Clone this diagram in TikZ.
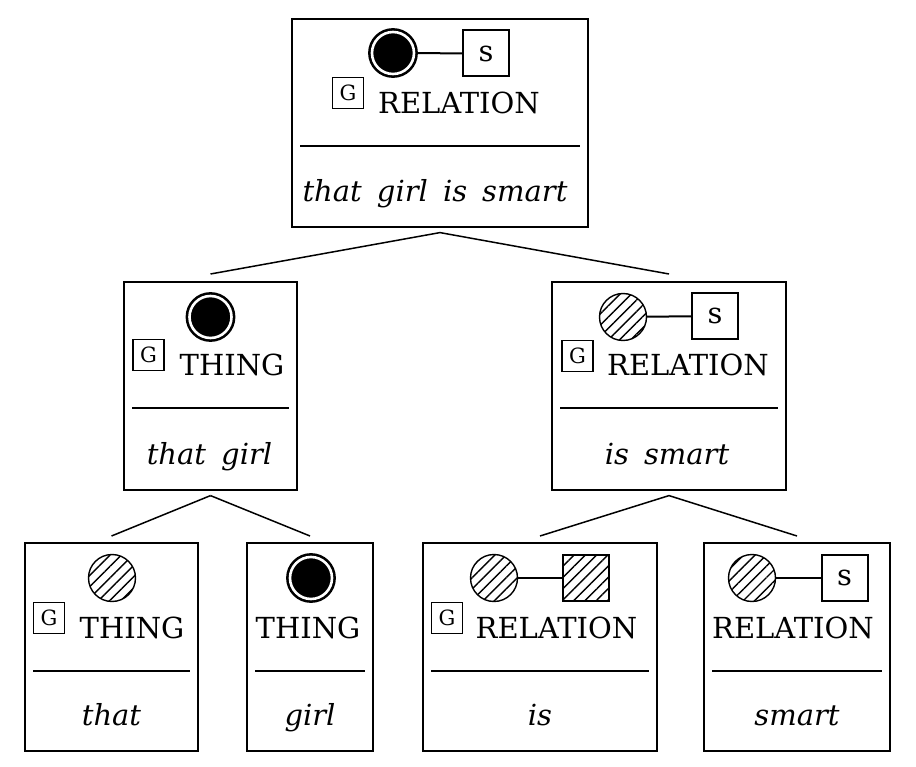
\documentclass[tikz,border=0pt]{standalone}
\usepackage{fontspec}
\setmainfont{DejaVu Serif}
\usetikzlibrary{patterns.meta,positioning}

\newcommand{\gap}{\hspace{0.52em}}

\tikzset{
  unit/.style={draw,line width=1.6pt,minimum width=#1,minimum height=208pt,inner sep=0pt,anchor=north},
  whole/.style={circle,draw,fill=black,line width=2.6pt,double=white,double distance=2.6pt,
    minimum size=42pt,inner sep=0pt,outer sep=2.9pt},
  open/.style={circle,draw,line width=1.4pt,minimum size=47pt,inner sep=0pt,
    pattern={Lines[angle=45,distance=8pt,line width=1.4pt]}},
  slot/.style={draw,line width=2pt,minimum size=46pt,inner sep=0pt},
  hslot/.style={slot,pattern={Lines[angle=45,distance=8pt,line width=1.4pt]}},
  gslot/.style={draw,line width=1.2pt,minimum size=31pt,inner sep=0pt,font=\fontsize{21}{21}\selectfont},
  cat/.style={anchor=base,inner sep=0pt},
  words/.style={anchor=base,inner sep=0pt,font=\fontsize{29}{34}\selectfont\itshape},
  bond/.style={line width=2pt},
  rule/.style={line width=1.6pt},
  link/.style={line width=1.5pt}
}

\begin{document}
\begin{tikzpicture}[x=1pt,y=-1pt,font=\fontsize{29}{34}\selectfont]
\useasboundingbox (0,0) rectangle (916,767);

% boxes
\node[unit=296pt] (root) at (440,18) {};
\node[unit=173pt] (subj) at (210.5,281) {};
\node[unit=234pt] (pred) at (669,281) {};
\node[unit=173pt] (det) at (111.5,542) {};
\node[unit=126pt] (noun) at (310,542) {};
\node[unit=234pt] (cop) at (540,542) {};
\node[unit=186pt] (adj) at (797,542) {};

% that girl is smart
\begin{scope}[shift={(root.north)}]
  \node[whole] (root-c) at (-47,35) {};
  \node[slot] (root-s) at (46,35.5) {s};
  \draw[bond] (root-c) -- (root-s);
  \node[gslot] (root-g) at (-92,75) {G};
  \node[cat] (root-l) at (19,96) {RELATION};
  \draw[rule] (-140,128) -- (140,128);
  \node[words] (root-w) at (-5,184) {that\gap girl\gap is\gap smart};
\end{scope}

% that girl
\begin{scope}[shift={(subj.north)}]
  \node[whole] (subj-c) at (0,36) {};
  \node[gslot] (subj-g) at (-62,74) {G};
  \node[cat] (subj-l) at (21.5,94) {THING};
  \draw[rule] (-78.5,127) -- (78.5,127);
  \node[words] (subj-w) at (-1,183) {that\gap girl};
\end{scope}

% is smart
\begin{scope}[shift={(pred.north)}]
  \node[open] (pred-c) at (-46,36) {};
  \node[slot] (pred-s) at (46,35) {s};
  \draw[bond] (pred-c) -- (pred-s);
  \node[gslot] (pred-g) at (-91.5,75) {G};
  \node[cat] (pred-l) at (19,94) {RELATION};
  \draw[rule] (-109,127) -- (109,127);
  \node[words] (pred-w) at (-2,183) {is\gap smart};
\end{scope}

% that
\begin{scope}[shift={(det.north)}]
  \node[open] (det-c) at (0.5,36) {};
  \node[gslot] (det-g) at (-62.5,76) {G};
  \node[cat] (det-l) at (20.5,96) {THING};
  \draw[rule] (-78.5,129) -- (78.5,129);
  \node[words] (det-w) at (0,183) {that};
\end{scope}

% girl
\begin{scope}[shift={(noun.north)}]
  \node[whole] (noun-c) at (1,36) {};
  \node[cat] (noun-l) at (-2,96) {THING};
  \draw[rule] (-55,129) -- (55,129);
  \node[words] (noun-w) at (0,183) {girl};
\end{scope}

% is
\begin{scope}[shift={(cop.north)}]
  \node[open] (cop-c) at (-46,36) {};
  \node[hslot] (cop-s) at (46,36) {};
  \draw[bond] (cop-c) -- (cop-s);
  \node[gslot] (cop-g) at (-93,76) {G};
  \node[cat] (cop-l) at (16.5,96) {RELATION};
  \draw[rule] (-109,129) -- (109,129);
  \node[words] (cop-w) at (0,183) {is};
\end{scope}

% smart
\begin{scope}[shift={(adj.north)}]
  \node[open] (adj-c) at (-45,36) {};
  \node[slot] (adj-s) at (47.5,36) {s};
  \draw[line width=1.3pt] (adj-c) -- (adj-s);
  \node[cat] (adj-l) at (-4,96) {RELATION};
  \draw[rule] (-85,129) -- (85,129);
  \node[words] (adj-w) at (0,183) {smart};
\end{scope}

% tree
\draw[link] ([yshift=-5pt]root.south) -- ([yshift=7pt]subj.north);
\draw[link] ([yshift=-5pt]root.south) -- ([yshift=7pt]pred.north);
\draw[link] ([yshift=-5pt]subj.south) -- ([yshift=6pt]det.north);
\draw[link] ([yshift=-5pt]subj.south) -- ([yshift=6pt]noun.north);
\draw[link] ([yshift=-5pt]pred.south) -- ([yshift=6pt]cop.north);
\draw[link] ([yshift=-5pt]pred.south) -- ([yshift=6pt]adj.north);
\end{tikzpicture}
\end{document}
